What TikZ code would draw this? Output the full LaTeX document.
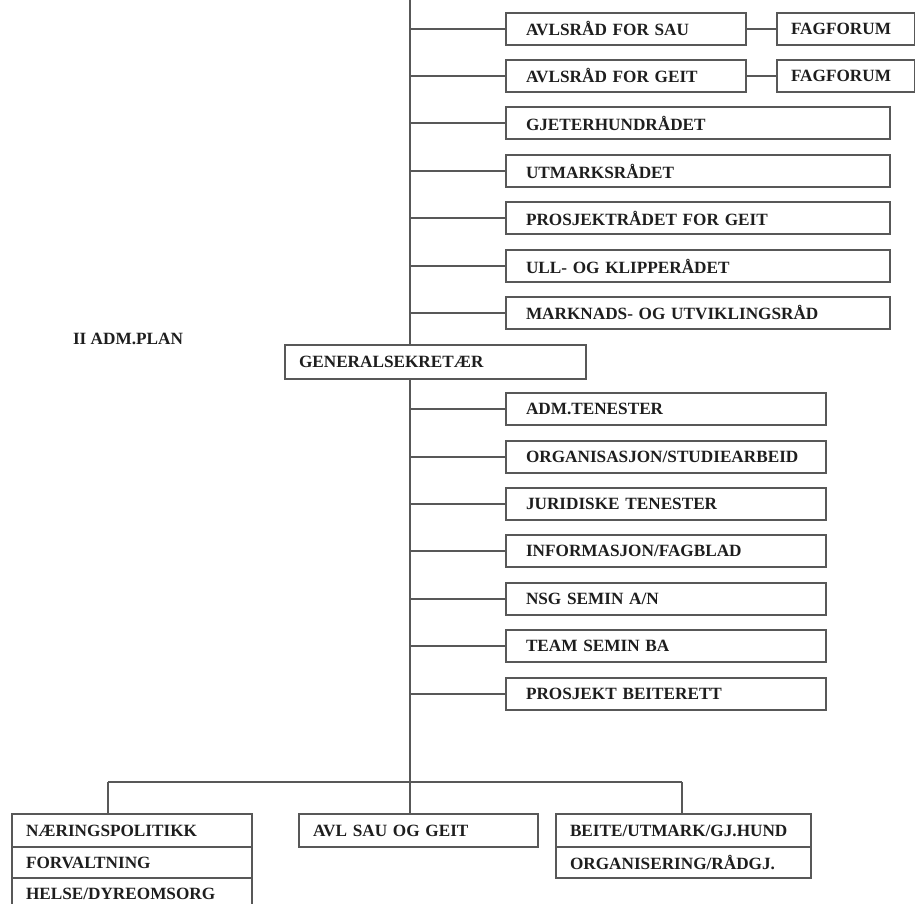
\documentclass[tikz,border=0pt]{standalone}
\usepackage{fontspec}
\setmainfont{Liberation Serif}
\definecolor{lc}{HTML}{585858}
\definecolor{tc}{HTML}{1E1E1E}
\begin{document}
\begin{tikzpicture}[x=1pt,y=-1pt,
  ln/.style={draw=lc, line width=2pt},
  bx/.style={draw=lc, line width=2pt, fill=white, anchor=north west,
    inner ysep=0pt, align=left, minimum height=32pt,
    font=\fontsize{17.2}{20}\selectfont\bfseries, text=tc},
  rb/.style={bx, inner xsep=20pt, text width=#1},
  lb/.style={bx, inner xsep=14pt, text width=#1},
  lbl/.style={font=\fontsize{17.2}{20}\selectfont\bfseries, text=tc}]
\useasboundingbox (0,0) rectangle (915,904);
\clip (0,0) rectangle (915,904);
\fill[white] (0,0) rectangle (915,904);

\coordinate (tt) at (410,0);
\coordinate (hl) at (108,782);
\coordinate (hr) at (682,782);

% top council boxes
\node[rb=200pt] (a1) at (505,12) {AVLSRÅD FOR SAU};
\node[rb=200pt] (a2) at (505,59) {AVLSRÅD FOR GEIT};
\node[lb=110pt] (f1) at (776,12) {FAGFORUM};
\node[lb=110pt] (f2) at (776,59) {FAGFORUM};
\node[rb=344pt] (g) at (505,106) {GJETERHUNDRÅDET};
\node[rb=344pt] (u) at (505,154) {UTMARKSRÅDET};
\node[rb=344pt] (p) at (505,201) {PROSJEKTRÅDET FOR GEIT};
\node[rb=344pt] (ul) at (505,249) {ULL- OG KLIPPERÅDET};
\node[rb=344pt] (mk) at (505,296) {MARKNADS- OG UTVIKLINGSRÅD};

\node[lbl] (plan) at (128,339) {II ADM.PLAN};

% admin boxes
\node[rb=280pt] (d1) at (505,392) {ADM.TENESTER};
\node[rb=280pt] (d2) at (505,440) {ORGANISASJON/STUDIEARBEID};
\node[rb=280pt] (d3) at (505,487) {JURIDISKE TENESTER};
\node[rb=280pt] (d4) at (505,534) {INFORMASJON/FAGBLAD};
\node[rb=280pt] (d5) at (505,582) {NSG SEMIN A/N};
\node[rb=280pt] (d6) at (505,629) {TEAM SEMIN BA};
\node[rb=280pt] (d7) at (505,677) {PROSJEKT BEITERETT};

% bottom boxes
\node[lb=212pt, minimum height=33pt] (l1) at (11,813) {NÆRINGSPOLITIKK};
\node[lb=212pt, minimum height=31pt] (l2) at (11,846) {FORVALTNING};
\node[lb=212pt, minimum height=32pt] (l3) at (11,877) {HELSE/DYREOMSORG};
\node[lb=211pt, minimum height=33pt] (m1) at (298,813) {AVL SAU OG GEIT};
\node[lb=227pt, minimum height=33pt] (r1) at (555,813) {BEITE/UTMARK/GJ.HUND};
\node[lb=227pt, minimum height=31pt] (r2) at (555,846) {ORGANISERING/RÅDGJ.};

% connectors
\draw[ln] (tt) -- (tt |- m1.north);
\foreach \n in {a1,a2,g,u,p,ul,mk,d1,d2,d3,d4,d5,d6,d7}
  \draw[ln] (\n.west -| tt) -- (\n.west);
\draw[ln] (a1.east) -- (f1.west);
\draw[ln] (a2.east) -- (f2.west);
\draw[ln] (hl) -- (hr);
\draw[ln] (hl) -- (hl |- l1.north);
\draw[ln] (hr) -- (hr |- r1.north);

% secretary box over the trunk
\node[lb=273pt, minimum height=34pt] (gs) at (284,344) {GENERALSEKRETÆR};
\end{tikzpicture}
\end{document}
